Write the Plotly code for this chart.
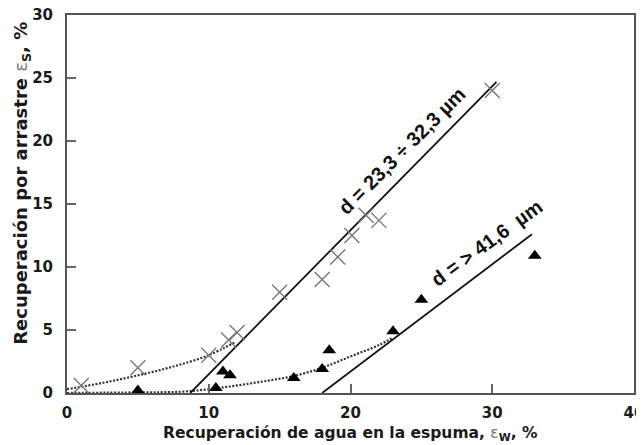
import plotly.graph_objects as go

# Crosses: d = 23,3 ÷ 32,3 µm
cross_x = [1.0, 5.0, 10.0, 11.4, 12.0, 15.0, 18.0, 19.1, 20.1, 21.1, 22.0, 30.0]
cross_y = [0.6, 2.0, 3.0, 4.2, 4.8, 8.0, 9.0, 10.8, 12.5, 14.1, 13.7, 24.0]

# Triangles: d = > 41,6 µm
tri_x = [5.0, 10.5, 11.0, 11.5, 16.0, 18.0, 18.5, 23.0, 25.0, 33.0]
tri_y = [0.2, 0.4, 1.7, 1.4, 1.2, 1.9, 3.4, 4.9, 7.4, 10.9]

# Straight lines (end points)
line1_x = [8.7, 30.3]
line1_y = [0.0, 24.7]
line2_x = [18.0, 32.8]
line2_y = [0.0, 12.6]

# Dotted curves
curve1_x = [0.0, 2.5, 5.0, 7.5, 10.0, 11.8]
curve1_y = [0.3, 0.8, 1.4, 2.1, 3.0, 4.0]
curve2_x = [0.0, 5.0, 8.0, 10.0, 12.0, 14.0, 16.0, 18.0, 20.0, 22.0, 23.0]
curve2_y = [0.0, 0.05, 0.1, 0.3, 0.6, 0.95, 1.35, 2.0, 2.9, 3.8, 4.4]

x_ticks = [0, 10, 20, 30, 40]
y_ticks = [0, 5, 10, 15, 20, 25, 30]

FONT = "Liberation Sans, Arial, sans-serif"
WFONT = "DejaVu Sans, Verdana, sans-serif"
TXT = "#1a1a1a"

fig = go.Figure()

dot = "2px,1.6px"
fig.add_trace(go.Scatter(x=curve1_x, y=curve1_y, mode="lines", line_shape="spline",
                         line=dict(color="#333", width=2.2, dash=dot), cliponaxis=False))
fig.add_trace(go.Scatter(x=curve2_x, y=curve2_y, mode="lines", line_shape="spline",
                         line=dict(color="#333", width=2.2, dash=dot), cliponaxis=False))
fig.add_trace(go.Scatter(x=line1_x, y=line1_y, mode="lines",
                         line=dict(color="#111", width=1.8)))
fig.add_trace(go.Scatter(x=line2_x, y=line2_y, mode="lines",
                         line=dict(color="#111", width=1.8)))
fig.add_trace(go.Scatter(x=cross_x, y=cross_y, mode="markers", cliponaxis=False,
                         marker=dict(symbol="x-thin", size=15,
                                     line=dict(color="#777", width=1.4))))
fig.add_trace(go.Scatter(x=tri_x, y=tri_y, mode="markers", cliponaxis=False,
                         marker=dict(symbol="triangle-up", size=12, color="#000",
                                     line=dict(width=0))))

axis_common = dict(
    showline=True, linecolor="#555", linewidth=2, mirror=True,
    ticks="inside", ticklen=9, tickwidth=1.5, tickcolor="#666",
    showgrid=False, zeroline=False, ticklabeloverflow="allow", automargin=False,
    tickfont=dict(family=WFONT, size=15, color=TXT, weight="bold"),
)

fig.update_xaxes(range=[0, 40], tickvals=x_ticks, ticklabelstandoff=5, **axis_common)
fig.update_yaxes(range=[0, 30], tickvals=y_ticks, ticklabelstandoff=9, **axis_common)

eps = '<span style="font-weight:normal;fill:#777">ε</span>'
fig.add_annotation(
    text="Recuperación de agua en la espuma, " + eps + "<sub>W</sub>, %",
    xref="paper", yref="paper", x=0.5, y=-0.108, xanchor="center", yanchor="middle",
    showarrow=False, font=dict(family=WFONT, size=15.5, color=TXT, weight="bold"))
fig.add_annotation(
    text="Recuperación por arrastre " + eps + "<sub>S</sub>, %",
    xref="paper", yref="paper", x=-0.0794, y=0.556, xanchor="center", yanchor="middle",
    textangle=-90,
    showarrow=False, font=dict(family=WFONT, size=18, color=TXT, weight="bold"))

fig.add_annotation(text="d = 23,3 ÷ 32,3 µm", x=23.6, y=19.2, textangle=-45,
                   showarrow=False, font=dict(family=FONT, size=20, color="#111", weight="bold"))
fig.add_annotation(text="d = > 41,6  µm", x=29.6, y=11.9, textangle=-36,
                   showarrow=False, font=dict(family=FONT, size=20, color="#111", weight="bold"))

# The page keeps the browser's 8px body margin, so the figure is sized to end
# exactly at the 644px window edge (plot area lands at the reference position).
fig.update_layout(
    width=636, height=437,
    margin=dict(l=59, r=10, t=7, b=52, autoexpand=False),
    plot_bgcolor="white", paper_bgcolor="white",
    showlegend=False,
)

fig.write_html("out.html", config={"displayModeBar": False})
